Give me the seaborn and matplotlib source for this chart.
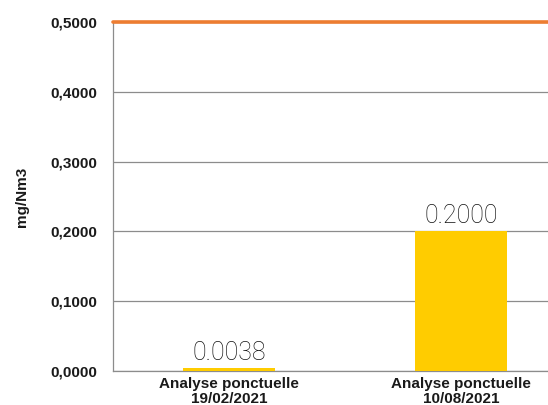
import matplotlib
matplotlib.use("Agg")
import matplotlib.pyplot as plt
import seaborn as sns
import pandas as pd

# data
categories = ["Analyse ponctuelle\n19/02/2021", "Analyse ponctuelle\n10/08/2021"]
values = [0.0038, 0.2000]
value_labels = ["0.0038", "0.2000"]
limit_value = 0.5
y_ticks = [0.0, 0.1, 0.2, 0.3, 0.4, 0.5]

sns.set_theme(style="white")
plt.rcParams['font.family'] = ['Liberation Sans', 'DejaVu Sans']

df = pd.DataFrame({"cat": categories, "val": values})

fig = plt.figure(figsize=(5.48, 4.05), dpi=100)
W, H = 548, 405
ax = fig.add_axes([113 / W, (H - 371) / H, (577 - 113) / W, (371 - 22) / H])

grid_col = "#8c8c8c"
sns.barplot(data=df, x="cat", y="val", color="#FFCC00", width=0.4,
            saturation=1, linewidth=0, ax=ax, zorder=3)

ax.set_ylim(0, 0.5)
ax.set_xlim(-0.5, 1.5)
ax.set_yticks(y_ticks)
ax.set_yticklabels([f"{t:.4f}".replace(".", ",") for t in y_ticks],
                   fontweight="bold", fontsize=11, color="#1a1a1a")
ax.yaxis.grid(True, color=grid_col, lw=0.9)
ax.set_axisbelow(True)

# limit line
ax.axhline(limit_value, color="#ED7D31", lw=2.6, zorder=5, clip_on=False)

for s in ["top", "right"]:
    ax.spines[s].set_visible(False)
ax.spines["left"].set_color(grid_col)
ax.spines["bottom"].set_color(grid_col)
ax.spines["left"].set_linewidth(0.9)
ax.spines["bottom"].set_linewidth(0.9)

ax.tick_params(axis="y", length=0, pad=11)
ax.tick_params(axis="x", which="major", length=0, pad=4)
ax.set_xticks([-0.5, 0.5, 1.5], minor=True)
ax.tick_params(axis="x", which="minor", length=25, width=0.9, color=grid_col, direction="out")
ax.set_xticks(range(len(categories)))
ax.set_xticklabels(categories, fontweight="bold", fontsize=11, color="#1a1a1a",
                   linespacing=1.15)

for i, (v, lab) in enumerate(zip(values, value_labels)):
    ax.text(i, v + 0.005, lab, ha="center", va="bottom", fontsize=18,
            family=["Roboto", "DejaVu Sans"], fontweight="light", color="#111111")

ax.set_xlabel("")
ax.set_ylabel("mg/Nm3", fontweight="bold", fontsize=11, color="#1a1a1a", labelpad=16)

fig.savefig("out.png", dpi=100)
